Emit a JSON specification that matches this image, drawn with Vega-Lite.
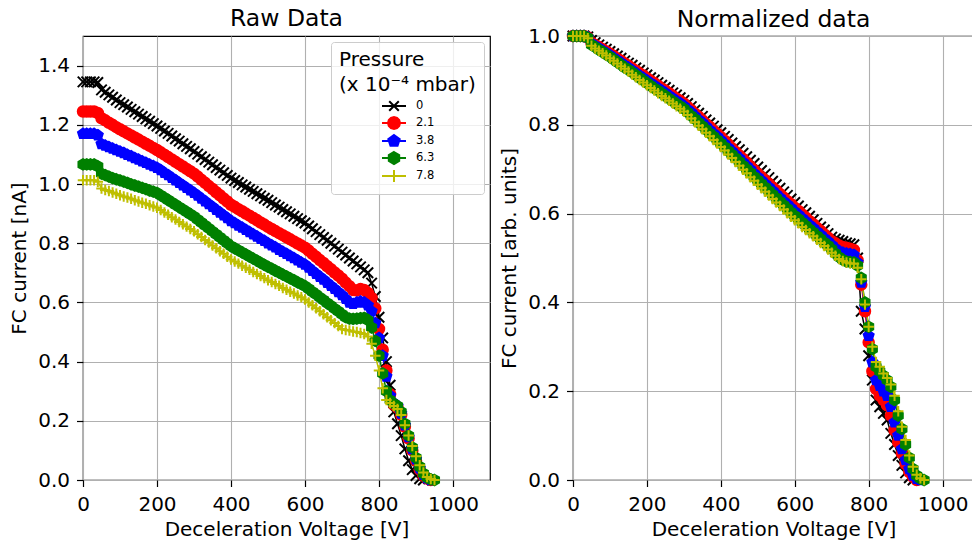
{
"$schema":"https://vega.github.io/schema/vega-lite/v6.json",
"background":"white",
"padding":{"left":9,"top":5,"right":0,"bottom":0},
"spacing":8,
"config":{
"font":"DejaVu Sans",
"view":{"stroke":"#000000","strokeWidth":1.2,"fill":"white"},
"axis":{"labelFont":"DejaVu Sans","titleFont":"DejaVu Sans","labelFontSize":20,"titleFontSize":20,"titleFontWeight":"normal","labelColor":"#000","titleColor":"#000","tickColor":"#000","tickSize":6.5,"tickWidth":1.2,"domain":false,"gridColor":"#b0b0b0","gridWidth":1.1,"gridOpacity":1,"labelFlush":false,"labelOverlap":false},
"axisY":{"titlePadding":8,"labelPadding":7},
"axisX":{"titlePadding":5,"labelPadding":8},
"title":{"font":"DejaVu Sans","fontSize":23.5,"fontWeight":"normal","color":"#000","offset":6,"frame":"group"},
"legend":{"titleFont":"DejaVu Sans","labelFont":"DejaVu Sans","titleFontSize":20,"titleFontWeight":"normal","titleColor":"#000","titleLineHeight":25,"titlePadding":4,"labelFontSize":11.5,"labelColor":"#000","fillColor":"rgba(255,255,255,0.8)","strokeColor":"#cccccc","cornerRadius":3,"padding":8,"rowPadding":-2,"symbolSize":144,"symbolStrokeWidth":2,"symbolOffset":48,"labelOffset":15}
},
"datasets":{
"raw":[
{"p":"0","v":0,"y":1.345},{"p":"0","v":10,"y":1.345},{"p":"0","v":20,"y":1.345},{"p":"0","v":30,"y":1.345},{"p":"0","v":40,"y":1.343},{"p":"0","v":50,"y":1.318},{"p":"0","v":60,"y":1.31},{"p":"0","v":70,"y":1.301},{"p":"0","v":80,"y":1.293},{"p":"0","v":90,"y":1.284},{"p":"0","v":100,"y":1.275},{"p":"0","v":110,"y":1.268},{"p":"0","v":120,"y":1.26},{"p":"0","v":130,"y":1.252},{"p":"0","v":140,"y":1.244},{"p":"0","v":150,"y":1.236},{"p":"0","v":160,"y":1.228},{"p":"0","v":170,"y":1.22},{"p":"0","v":180,"y":1.212},{"p":"0","v":190,"y":1.204},{"p":"0","v":200,"y":1.196},{"p":"0","v":210,"y":1.188},{"p":"0","v":220,"y":1.179},{"p":"0","v":230,"y":1.171},{"p":"0","v":240,"y":1.162},{"p":"0","v":250,"y":1.153},{"p":"0","v":260,"y":1.145},{"p":"0","v":270,"y":1.136},{"p":"0","v":280,"y":1.127},{"p":"0","v":290,"y":1.119},{"p":"0","v":300,"y":1.11},{"p":"0","v":310,"y":1.101},{"p":"0","v":320,"y":1.092},{"p":"0","v":330,"y":1.083},{"p":"0","v":340,"y":1.074},{"p":"0","v":350,"y":1.065},{"p":"0","v":360,"y":1.056},{"p":"0","v":370,"y":1.047},{"p":"0","v":380,"y":1.038},{"p":"0","v":390,"y":1.029},{"p":"0","v":400,"y":1.02},{"p":"0","v":410,"y":1.012},{"p":"0","v":420,"y":1.005},{"p":"0","v":430,"y":0.997},{"p":"0","v":440,"y":0.99},{"p":"0","v":450,"y":0.982},{"p":"0","v":460,"y":0.975},{"p":"0","v":470,"y":0.967},{"p":"0","v":480,"y":0.96},{"p":"0","v":490,"y":0.952},{"p":"0","v":500,"y":0.945},{"p":"0","v":510,"y":0.937},{"p":"0","v":520,"y":0.929},{"p":"0","v":530,"y":0.922},{"p":"0","v":540,"y":0.914},{"p":"0","v":550,"y":0.906},{"p":"0","v":560,"y":0.899},{"p":"0","v":570,"y":0.891},{"p":"0","v":580,"y":0.883},{"p":"0","v":590,"y":0.876},{"p":"0","v":600,"y":0.868},{"p":"0","v":610,"y":0.858},{"p":"0","v":620,"y":0.849},{"p":"0","v":630,"y":0.839},{"p":"0","v":640,"y":0.829},{"p":"0","v":650,"y":0.819},{"p":"0","v":660,"y":0.81},{"p":"0","v":670,"y":0.8},{"p":"0","v":680,"y":0.79},{"p":"0","v":690,"y":0.78},{"p":"0","v":700,"y":0.77},{"p":"0","v":710,"y":0.76},{"p":"0","v":720,"y":0.75},{"p":"0","v":730,"y":0.74},{"p":"0","v":740,"y":0.73},{"p":"0","v":750,"y":0.72},{"p":"0","v":760,"y":0.71},{"p":"0","v":770,"y":0.7},{"p":"0","v":780,"y":0.665},{"p":"0","v":790,"y":0.62},{"p":"0","v":800,"y":0.55},{"p":"0","v":810,"y":0.48},{"p":"0","v":820,"y":0.4},{"p":"0","v":830,"y":0.32},{"p":"0","v":840,"y":0.23},{"p":"0","v":850,"y":0.19},{"p":"0","v":860,"y":0.15},{"p":"0","v":870,"y":0.105},{"p":"0","v":880,"y":0.065},{"p":"0","v":890,"y":0.035},{"p":"0","v":900,"y":0.015},{"p":"0","v":910,"y":0.004},{"p":"0","v":920,"y":0},
{"p":"2.1","v":0,"y":1.245},{"p":"2.1","v":10,"y":1.245},{"p":"2.1","v":20,"y":1.245},{"p":"2.1","v":30,"y":1.245},{"p":"2.1","v":40,"y":1.24},{"p":"2.1","v":50,"y":1.222},{"p":"2.1","v":60,"y":1.215},{"p":"2.1","v":70,"y":1.207},{"p":"2.1","v":80,"y":1.2},{"p":"2.1","v":90,"y":1.192},{"p":"2.1","v":100,"y":1.185},{"p":"2.1","v":110,"y":1.178},{"p":"2.1","v":120,"y":1.171},{"p":"2.1","v":130,"y":1.164},{"p":"2.1","v":140,"y":1.157},{"p":"2.1","v":150,"y":1.15},{"p":"2.1","v":160,"y":1.143},{"p":"2.1","v":170,"y":1.136},{"p":"2.1","v":180,"y":1.129},{"p":"2.1","v":190,"y":1.122},{"p":"2.1","v":200,"y":1.115},{"p":"2.1","v":210,"y":1.107},{"p":"2.1","v":220,"y":1.099},{"p":"2.1","v":230,"y":1.091},{"p":"2.1","v":240,"y":1.083},{"p":"2.1","v":250,"y":1.075},{"p":"2.1","v":260,"y":1.067},{"p":"2.1","v":270,"y":1.059},{"p":"2.1","v":280,"y":1.051},{"p":"2.1","v":290,"y":1.043},{"p":"2.1","v":300,"y":1.035},{"p":"2.1","v":310,"y":1.025},{"p":"2.1","v":320,"y":1.014},{"p":"2.1","v":330,"y":1.004},{"p":"2.1","v":340,"y":0.993},{"p":"2.1","v":350,"y":0.983},{"p":"2.1","v":360,"y":0.972},{"p":"2.1","v":370,"y":0.962},{"p":"2.1","v":380,"y":0.951},{"p":"2.1","v":390,"y":0.941},{"p":"2.1","v":400,"y":0.93},{"p":"2.1","v":410,"y":0.923},{"p":"2.1","v":420,"y":0.915},{"p":"2.1","v":430,"y":0.908},{"p":"2.1","v":440,"y":0.9},{"p":"2.1","v":450,"y":0.893},{"p":"2.1","v":460,"y":0.885},{"p":"2.1","v":470,"y":0.878},{"p":"2.1","v":480,"y":0.87},{"p":"2.1","v":490,"y":0.863},{"p":"2.1","v":500,"y":0.855},{"p":"2.1","v":510,"y":0.848},{"p":"2.1","v":520,"y":0.841},{"p":"2.1","v":530,"y":0.834},{"p":"2.1","v":540,"y":0.827},{"p":"2.1","v":550,"y":0.82},{"p":"2.1","v":560,"y":0.813},{"p":"2.1","v":570,"y":0.806},{"p":"2.1","v":580,"y":0.799},{"p":"2.1","v":590,"y":0.792},{"p":"2.1","v":600,"y":0.785},{"p":"2.1","v":610,"y":0.775},{"p":"2.1","v":620,"y":0.764},{"p":"2.1","v":630,"y":0.754},{"p":"2.1","v":640,"y":0.743},{"p":"2.1","v":650,"y":0.733},{"p":"2.1","v":660,"y":0.722},{"p":"2.1","v":670,"y":0.712},{"p":"2.1","v":680,"y":0.701},{"p":"2.1","v":690,"y":0.691},{"p":"2.1","v":700,"y":0.68},{"p":"2.1","v":710,"y":0.667},{"p":"2.1","v":720,"y":0.655},{"p":"2.1","v":730,"y":0.642},{"p":"2.1","v":740,"y":0.64},{"p":"2.1","v":750,"y":0.645},{"p":"2.1","v":760,"y":0.642},{"p":"2.1","v":770,"y":0.632},{"p":"2.1","v":780,"y":0.615},{"p":"2.1","v":790,"y":0.58},{"p":"2.1","v":800,"y":0.51},{"p":"2.1","v":810,"y":0.44},{"p":"2.1","v":820,"y":0.37},{"p":"2.1","v":830,"y":0.29},{"p":"2.1","v":840,"y":0.255},{"p":"2.1","v":850,"y":0.245},{"p":"2.1","v":860,"y":0.22},{"p":"2.1","v":870,"y":0.18},{"p":"2.1","v":880,"y":0.14},{"p":"2.1","v":890,"y":0.1},{"p":"2.1","v":900,"y":0.065},{"p":"2.1","v":910,"y":0.035},{"p":"2.1","v":920,"y":0.015},{"p":"2.1","v":930,"y":0.005},{"p":"2.1","v":940,"y":0},
{"p":"3.8","v":0,"y":1.17},{"p":"3.8","v":10,"y":1.17},{"p":"3.8","v":20,"y":1.17},{"p":"3.8","v":30,"y":1.17},{"p":"3.8","v":40,"y":1.165},{"p":"3.8","v":50,"y":1.135},{"p":"3.8","v":60,"y":1.13},{"p":"3.8","v":70,"y":1.125},{"p":"3.8","v":80,"y":1.12},{"p":"3.8","v":90,"y":1.115},{"p":"3.8","v":100,"y":1.11},{"p":"3.8","v":110,"y":1.105},{"p":"3.8","v":120,"y":1.099},{"p":"3.8","v":130,"y":1.094},{"p":"3.8","v":140,"y":1.088},{"p":"3.8","v":150,"y":1.083},{"p":"3.8","v":160,"y":1.077},{"p":"3.8","v":170,"y":1.072},{"p":"3.8","v":180,"y":1.066},{"p":"3.8","v":190,"y":1.061},{"p":"3.8","v":200,"y":1.055},{"p":"3.8","v":210,"y":1.047},{"p":"3.8","v":220,"y":1.038},{"p":"3.8","v":230,"y":1.03},{"p":"3.8","v":240,"y":1.021},{"p":"3.8","v":250,"y":1.013},{"p":"3.8","v":260,"y":1.004},{"p":"3.8","v":270,"y":0.996},{"p":"3.8","v":280,"y":0.987},{"p":"3.8","v":290,"y":0.979},{"p":"3.8","v":300,"y":0.97},{"p":"3.8","v":310,"y":0.961},{"p":"3.8","v":320,"y":0.951},{"p":"3.8","v":330,"y":0.942},{"p":"3.8","v":340,"y":0.932},{"p":"3.8","v":350,"y":0.923},{"p":"3.8","v":360,"y":0.913},{"p":"3.8","v":370,"y":0.904},{"p":"3.8","v":380,"y":0.894},{"p":"3.8","v":390,"y":0.885},{"p":"3.8","v":400,"y":0.875},{"p":"3.8","v":410,"y":0.868},{"p":"3.8","v":420,"y":0.86},{"p":"3.8","v":430,"y":0.853},{"p":"3.8","v":440,"y":0.845},{"p":"3.8","v":450,"y":0.838},{"p":"3.8","v":460,"y":0.83},{"p":"3.8","v":470,"y":0.823},{"p":"3.8","v":480,"y":0.815},{"p":"3.8","v":490,"y":0.808},{"p":"3.8","v":500,"y":0.8},{"p":"3.8","v":510,"y":0.793},{"p":"3.8","v":520,"y":0.786},{"p":"3.8","v":530,"y":0.778},{"p":"3.8","v":540,"y":0.771},{"p":"3.8","v":550,"y":0.764},{"p":"3.8","v":560,"y":0.757},{"p":"3.8","v":570,"y":0.75},{"p":"3.8","v":580,"y":0.742},{"p":"3.8","v":590,"y":0.735},{"p":"3.8","v":600,"y":0.728},{"p":"3.8","v":610,"y":0.718},{"p":"3.8","v":620,"y":0.707},{"p":"3.8","v":630,"y":0.697},{"p":"3.8","v":640,"y":0.687},{"p":"3.8","v":650,"y":0.677},{"p":"3.8","v":660,"y":0.666},{"p":"3.8","v":670,"y":0.656},{"p":"3.8","v":680,"y":0.646},{"p":"3.8","v":690,"y":0.635},{"p":"3.8","v":700,"y":0.625},{"p":"3.8","v":710,"y":0.612},{"p":"3.8","v":720,"y":0.6},{"p":"3.8","v":730,"y":0.595},{"p":"3.8","v":740,"y":0.6},{"p":"3.8","v":750,"y":0.603},{"p":"3.8","v":760,"y":0.6},{"p":"3.8","v":770,"y":0.59},{"p":"3.8","v":780,"y":0.57},{"p":"3.8","v":790,"y":0.53},{"p":"3.8","v":800,"y":0.48},{"p":"3.8","v":810,"y":0.42},{"p":"3.8","v":820,"y":0.35},{"p":"3.8","v":830,"y":0.285},{"p":"3.8","v":840,"y":0.26},{"p":"3.8","v":850,"y":0.25},{"p":"3.8","v":860,"y":0.225},{"p":"3.8","v":870,"y":0.185},{"p":"3.8","v":880,"y":0.145},{"p":"3.8","v":890,"y":0.105},{"p":"3.8","v":900,"y":0.07},{"p":"3.8","v":910,"y":0.04},{"p":"3.8","v":920,"y":0.018},{"p":"3.8","v":930,"y":0.006},{"p":"3.8","v":940,"y":0},
{"p":"6.3","v":0,"y":1.066},{"p":"6.3","v":10,"y":1.066},{"p":"6.3","v":20,"y":1.066},{"p":"6.3","v":30,"y":1.066},{"p":"6.3","v":40,"y":1.06},{"p":"6.3","v":50,"y":1.035},{"p":"6.3","v":60,"y":1.03},{"p":"6.3","v":70,"y":1.025},{"p":"6.3","v":80,"y":1.02},{"p":"6.3","v":90,"y":1.016},{"p":"6.3","v":100,"y":1.012},{"p":"6.3","v":110,"y":1.008},{"p":"6.3","v":120,"y":1.004},{"p":"6.3","v":130,"y":0.999},{"p":"6.3","v":140,"y":0.995},{"p":"6.3","v":150,"y":0.991},{"p":"6.3","v":160,"y":0.987},{"p":"6.3","v":170,"y":0.983},{"p":"6.3","v":180,"y":0.978},{"p":"6.3","v":190,"y":0.974},{"p":"6.3","v":200,"y":0.97},{"p":"6.3","v":210,"y":0.962},{"p":"6.3","v":220,"y":0.954},{"p":"6.3","v":230,"y":0.946},{"p":"6.3","v":240,"y":0.938},{"p":"6.3","v":250,"y":0.93},{"p":"6.3","v":260,"y":0.922},{"p":"6.3","v":270,"y":0.914},{"p":"6.3","v":280,"y":0.906},{"p":"6.3","v":290,"y":0.898},{"p":"6.3","v":300,"y":0.89},{"p":"6.3","v":310,"y":0.88},{"p":"6.3","v":320,"y":0.87},{"p":"6.3","v":330,"y":0.86},{"p":"6.3","v":340,"y":0.85},{"p":"6.3","v":350,"y":0.84},{"p":"6.3","v":360,"y":0.83},{"p":"6.3","v":370,"y":0.82},{"p":"6.3","v":380,"y":0.81},{"p":"6.3","v":390,"y":0.8},{"p":"6.3","v":400,"y":0.79},{"p":"6.3","v":410,"y":0.783},{"p":"6.3","v":420,"y":0.776},{"p":"6.3","v":430,"y":0.769},{"p":"6.3","v":440,"y":0.762},{"p":"6.3","v":450,"y":0.755},{"p":"6.3","v":460,"y":0.748},{"p":"6.3","v":470,"y":0.741},{"p":"6.3","v":480,"y":0.734},{"p":"6.3","v":490,"y":0.727},{"p":"6.3","v":500,"y":0.72},{"p":"6.3","v":510,"y":0.714},{"p":"6.3","v":520,"y":0.707},{"p":"6.3","v":530,"y":0.701},{"p":"6.3","v":540,"y":0.694},{"p":"6.3","v":550,"y":0.688},{"p":"6.3","v":560,"y":0.681},{"p":"6.3","v":570,"y":0.675},{"p":"6.3","v":580,"y":0.668},{"p":"6.3","v":590,"y":0.662},{"p":"6.3","v":600,"y":0.655},{"p":"6.3","v":610,"y":0.646},{"p":"6.3","v":620,"y":0.636},{"p":"6.3","v":630,"y":0.627},{"p":"6.3","v":640,"y":0.617},{"p":"6.3","v":650,"y":0.608},{"p":"6.3","v":660,"y":0.598},{"p":"6.3","v":670,"y":0.589},{"p":"6.3","v":680,"y":0.579},{"p":"6.3","v":690,"y":0.57},{"p":"6.3","v":700,"y":0.56},{"p":"6.3","v":710,"y":0.55},{"p":"6.3","v":720,"y":0.545},{"p":"6.3","v":730,"y":0.544},{"p":"6.3","v":740,"y":0.545},{"p":"6.3","v":750,"y":0.547},{"p":"6.3","v":760,"y":0.548},{"p":"6.3","v":770,"y":0.54},{"p":"6.3","v":780,"y":0.515},{"p":"6.3","v":790,"y":0.47},{"p":"6.3","v":800,"y":0.42},{"p":"6.3","v":810,"y":0.36},{"p":"6.3","v":820,"y":0.3},{"p":"6.3","v":830,"y":0.27},{"p":"6.3","v":840,"y":0.258},{"p":"6.3","v":850,"y":0.25},{"p":"6.3","v":860,"y":0.23},{"p":"6.3","v":870,"y":0.19},{"p":"6.3","v":880,"y":0.15},{"p":"6.3","v":890,"y":0.11},{"p":"6.3","v":900,"y":0.075},{"p":"6.3","v":910,"y":0.045},{"p":"6.3","v":920,"y":0.022},{"p":"6.3","v":930,"y":0.008},{"p":"6.3","v":940,"y":0.002},{"p":"6.3","v":950,"y":0},
{"p":"7.8","v":0,"y":1.013},{"p":"7.8","v":10,"y":1.013},{"p":"7.8","v":20,"y":1.013},{"p":"7.8","v":30,"y":1.013},{"p":"7.8","v":40,"y":1.008},{"p":"7.8","v":50,"y":0.985},{"p":"7.8","v":60,"y":0.98},{"p":"7.8","v":70,"y":0.976},{"p":"7.8","v":80,"y":0.971},{"p":"7.8","v":90,"y":0.967},{"p":"7.8","v":100,"y":0.962},{"p":"7.8","v":110,"y":0.958},{"p":"7.8","v":120,"y":0.954},{"p":"7.8","v":130,"y":0.95},{"p":"7.8","v":140,"y":0.945},{"p":"7.8","v":150,"y":0.941},{"p":"7.8","v":160,"y":0.937},{"p":"7.8","v":170,"y":0.933},{"p":"7.8","v":180,"y":0.928},{"p":"7.8","v":190,"y":0.924},{"p":"7.8","v":200,"y":0.92},{"p":"7.8","v":210,"y":0.912},{"p":"7.8","v":220,"y":0.904},{"p":"7.8","v":230,"y":0.896},{"p":"7.8","v":240,"y":0.888},{"p":"7.8","v":250,"y":0.88},{"p":"7.8","v":260,"y":0.872},{"p":"7.8","v":270,"y":0.864},{"p":"7.8","v":280,"y":0.856},{"p":"7.8","v":290,"y":0.848},{"p":"7.8","v":300,"y":0.84},{"p":"7.8","v":310,"y":0.83},{"p":"7.8","v":320,"y":0.821},{"p":"7.8","v":330,"y":0.811},{"p":"7.8","v":340,"y":0.802},{"p":"7.8","v":350,"y":0.792},{"p":"7.8","v":360,"y":0.783},{"p":"7.8","v":370,"y":0.773},{"p":"7.8","v":380,"y":0.764},{"p":"7.8","v":390,"y":0.754},{"p":"7.8","v":400,"y":0.745},{"p":"7.8","v":410,"y":0.738},{"p":"7.8","v":420,"y":0.731},{"p":"7.8","v":430,"y":0.724},{"p":"7.8","v":440,"y":0.717},{"p":"7.8","v":450,"y":0.71},{"p":"7.8","v":460,"y":0.703},{"p":"7.8","v":470,"y":0.696},{"p":"7.8","v":480,"y":0.689},{"p":"7.8","v":490,"y":0.682},{"p":"7.8","v":500,"y":0.675},{"p":"7.8","v":510,"y":0.669},{"p":"7.8","v":520,"y":0.662},{"p":"7.8","v":530,"y":0.656},{"p":"7.8","v":540,"y":0.649},{"p":"7.8","v":550,"y":0.643},{"p":"7.8","v":560,"y":0.636},{"p":"7.8","v":570,"y":0.63},{"p":"7.8","v":580,"y":0.623},{"p":"7.8","v":590,"y":0.617},{"p":"7.8","v":600,"y":0.61},{"p":"7.8","v":610,"y":0.6},{"p":"7.8","v":620,"y":0.59},{"p":"7.8","v":630,"y":0.58},{"p":"7.8","v":640,"y":0.57},{"p":"7.8","v":650,"y":0.56},{"p":"7.8","v":660,"y":0.55},{"p":"7.8","v":670,"y":0.54},{"p":"7.8","v":680,"y":0.53},{"p":"7.8","v":690,"y":0.52},{"p":"7.8","v":700,"y":0.51},{"p":"7.8","v":710,"y":0.507},{"p":"7.8","v":720,"y":0.505},{"p":"7.8","v":730,"y":0.502},{"p":"7.8","v":740,"y":0.5},{"p":"7.8","v":750,"y":0.497},{"p":"7.8","v":760,"y":0.493},{"p":"7.8","v":770,"y":0.485},{"p":"7.8","v":780,"y":0.46},{"p":"7.8","v":790,"y":0.42},{"p":"7.8","v":800,"y":0.37},{"p":"7.8","v":810,"y":0.31},{"p":"7.8","v":820,"y":0.27},{"p":"7.8","v":830,"y":0.26},{"p":"7.8","v":840,"y":0.25},{"p":"7.8","v":850,"y":0.24},{"p":"7.8","v":860,"y":0.22},{"p":"7.8","v":870,"y":0.185},{"p":"7.8","v":880,"y":0.15},{"p":"7.8","v":890,"y":0.115},{"p":"7.8","v":900,"y":0.08},{"p":"7.8","v":910,"y":0.05},{"p":"7.8","v":920,"y":0.025},{"p":"7.8","v":930,"y":0.01},{"p":"7.8","v":940,"y":0.003},{"p":"7.8","v":950,"y":0}
],
"norm":[
{"p":"0","v":0,"y":1},{"p":"0","v":10,"y":1},{"p":"0","v":20,"y":1},{"p":"0","v":30,"y":1},{"p":"0","v":40,"y":0.998},{"p":"0","v":50,"y":0.99},{"p":"0","v":60,"y":0.985},{"p":"0","v":70,"y":0.98},{"p":"0","v":80,"y":0.975},{"p":"0","v":90,"y":0.97},{"p":"0","v":100,"y":0.965},{"p":"0","v":110,"y":0.96},{"p":"0","v":120,"y":0.955},{"p":"0","v":130,"y":0.95},{"p":"0","v":140,"y":0.944},{"p":"0","v":150,"y":0.939},{"p":"0","v":160,"y":0.934},{"p":"0","v":170,"y":0.928},{"p":"0","v":180,"y":0.923},{"p":"0","v":190,"y":0.917},{"p":"0","v":200,"y":0.912},{"p":"0","v":210,"y":0.906},{"p":"0","v":220,"y":0.901},{"p":"0","v":230,"y":0.895},{"p":"0","v":240,"y":0.889},{"p":"0","v":250,"y":0.884},{"p":"0","v":260,"y":0.878},{"p":"0","v":270,"y":0.872},{"p":"0","v":280,"y":0.867},{"p":"0","v":290,"y":0.861},{"p":"0","v":300,"y":0.855},{"p":"0","v":310,"y":0.848},{"p":"0","v":320,"y":0.841},{"p":"0","v":330,"y":0.833},{"p":"0","v":340,"y":0.826},{"p":"0","v":350,"y":0.819},{"p":"0","v":360,"y":0.811},{"p":"0","v":370,"y":0.804},{"p":"0","v":380,"y":0.797},{"p":"0","v":390,"y":0.789},{"p":"0","v":400,"y":0.782},{"p":"0","v":410,"y":0.774},{"p":"0","v":420,"y":0.767},{"p":"0","v":430,"y":0.759},{"p":"0","v":440,"y":0.751},{"p":"0","v":450,"y":0.744},{"p":"0","v":460,"y":0.736},{"p":"0","v":470,"y":0.728},{"p":"0","v":480,"y":0.72},{"p":"0","v":490,"y":0.713},{"p":"0","v":500,"y":0.705},{"p":"0","v":510,"y":0.697},{"p":"0","v":520,"y":0.689},{"p":"0","v":530,"y":0.681},{"p":"0","v":540,"y":0.673},{"p":"0","v":550,"y":0.665},{"p":"0","v":560,"y":0.657},{"p":"0","v":570,"y":0.649},{"p":"0","v":580,"y":0.641},{"p":"0","v":590,"y":0.633},{"p":"0","v":600,"y":0.625},{"p":"0","v":610,"y":0.617},{"p":"0","v":620,"y":0.609},{"p":"0","v":630,"y":0.602},{"p":"0","v":640,"y":0.594},{"p":"0","v":650,"y":0.586},{"p":"0","v":660,"y":0.578},{"p":"0","v":670,"y":0.57},{"p":"0","v":680,"y":0.563},{"p":"0","v":690,"y":0.555},{"p":"0","v":700,"y":0.547},{"p":"0","v":710,"y":0.543},{"p":"0","v":720,"y":0.54},{"p":"0","v":730,"y":0.537},{"p":"0","v":740,"y":0.534},{"p":"0","v":750,"y":0.532},{"p":"0","v":760,"y":0.53},{"p":"0","v":770,"y":0.5},{"p":"0","v":780,"y":0.38},{"p":"0","v":790,"y":0.34},{"p":"0","v":800,"y":0.28},{"p":"0","v":810,"y":0.225},{"p":"0","v":820,"y":0.18},{"p":"0","v":830,"y":0.165},{"p":"0","v":840,"y":0.15},{"p":"0","v":850,"y":0.135},{"p":"0","v":860,"y":0.105},{"p":"0","v":870,"y":0.08},{"p":"0","v":880,"y":0.055},{"p":"0","v":890,"y":0.033},{"p":"0","v":900,"y":0.016},{"p":"0","v":910,"y":0.005},{"p":"0","v":920,"y":0},
{"p":"2.1","v":0,"y":1},{"p":"2.1","v":10,"y":1},{"p":"2.1","v":20,"y":1},{"p":"2.1","v":30,"y":1},{"p":"2.1","v":40,"y":0.997},{"p":"2.1","v":50,"y":0.985},{"p":"2.1","v":60,"y":0.98},{"p":"2.1","v":70,"y":0.975},{"p":"2.1","v":80,"y":0.97},{"p":"2.1","v":90,"y":0.965},{"p":"2.1","v":100,"y":0.96},{"p":"2.1","v":110,"y":0.955},{"p":"2.1","v":120,"y":0.949},{"p":"2.1","v":130,"y":0.944},{"p":"2.1","v":140,"y":0.938},{"p":"2.1","v":150,"y":0.933},{"p":"2.1","v":160,"y":0.927},{"p":"2.1","v":170,"y":0.922},{"p":"2.1","v":180,"y":0.916},{"p":"2.1","v":190,"y":0.911},{"p":"2.1","v":200,"y":0.905},{"p":"2.1","v":210,"y":0.899},{"p":"2.1","v":220,"y":0.894},{"p":"2.1","v":230,"y":0.888},{"p":"2.1","v":240,"y":0.882},{"p":"2.1","v":250,"y":0.877},{"p":"2.1","v":260,"y":0.871},{"p":"2.1","v":270,"y":0.865},{"p":"2.1","v":280,"y":0.859},{"p":"2.1","v":290,"y":0.854},{"p":"2.1","v":300,"y":0.848},{"p":"2.1","v":310,"y":0.84},{"p":"2.1","v":320,"y":0.833},{"p":"2.1","v":330,"y":0.825},{"p":"2.1","v":340,"y":0.818},{"p":"2.1","v":350,"y":0.81},{"p":"2.1","v":360,"y":0.802},{"p":"2.1","v":370,"y":0.795},{"p":"2.1","v":380,"y":0.787},{"p":"2.1","v":390,"y":0.78},{"p":"2.1","v":400,"y":0.772},{"p":"2.1","v":410,"y":0.764},{"p":"2.1","v":420,"y":0.756},{"p":"2.1","v":430,"y":0.747},{"p":"2.1","v":440,"y":0.739},{"p":"2.1","v":450,"y":0.731},{"p":"2.1","v":460,"y":0.723},{"p":"2.1","v":470,"y":0.715},{"p":"2.1","v":480,"y":0.706},{"p":"2.1","v":490,"y":0.698},{"p":"2.1","v":500,"y":0.69},{"p":"2.1","v":510,"y":0.682},{"p":"2.1","v":520,"y":0.675},{"p":"2.1","v":530,"y":0.667},{"p":"2.1","v":540,"y":0.659},{"p":"2.1","v":550,"y":0.652},{"p":"2.1","v":560,"y":0.644},{"p":"2.1","v":570,"y":0.636},{"p":"2.1","v":580,"y":0.628},{"p":"2.1","v":590,"y":0.621},{"p":"2.1","v":600,"y":0.613},{"p":"2.1","v":610,"y":0.606},{"p":"2.1","v":620,"y":0.598},{"p":"2.1","v":630,"y":0.591},{"p":"2.1","v":640,"y":0.583},{"p":"2.1","v":650,"y":0.576},{"p":"2.1","v":660,"y":0.568},{"p":"2.1","v":670,"y":0.561},{"p":"2.1","v":680,"y":0.553},{"p":"2.1","v":690,"y":0.546},{"p":"2.1","v":700,"y":0.538},{"p":"2.1","v":710,"y":0.533},{"p":"2.1","v":720,"y":0.528},{"p":"2.1","v":730,"y":0.525},{"p":"2.1","v":740,"y":0.523},{"p":"2.1","v":750,"y":0.521},{"p":"2.1","v":760,"y":0.518},{"p":"2.1","v":770,"y":0.495},{"p":"2.1","v":780,"y":0.44},{"p":"2.1","v":790,"y":0.38},{"p":"2.1","v":800,"y":0.31},{"p":"2.1","v":810,"y":0.245},{"p":"2.1","v":820,"y":0.205},{"p":"2.1","v":830,"y":0.19},{"p":"2.1","v":840,"y":0.18},{"p":"2.1","v":850,"y":0.168},{"p":"2.1","v":860,"y":0.145},{"p":"2.1","v":870,"y":0.112},{"p":"2.1","v":880,"y":0.085},{"p":"2.1","v":890,"y":0.06},{"p":"2.1","v":900,"y":0.036},{"p":"2.1","v":910,"y":0.018},{"p":"2.1","v":920,"y":0.007},{"p":"2.1","v":930,"y":0},
{"p":"3.8","v":0,"y":1},{"p":"3.8","v":10,"y":1},{"p":"3.8","v":20,"y":1},{"p":"3.8","v":30,"y":1},{"p":"3.8","v":40,"y":0.997},{"p":"3.8","v":50,"y":0.983},{"p":"3.8","v":60,"y":0.978},{"p":"3.8","v":70,"y":0.973},{"p":"3.8","v":80,"y":0.967},{"p":"3.8","v":90,"y":0.962},{"p":"3.8","v":100,"y":0.957},{"p":"3.8","v":110,"y":0.951},{"p":"3.8","v":120,"y":0.946},{"p":"3.8","v":130,"y":0.94},{"p":"3.8","v":140,"y":0.934},{"p":"3.8","v":150,"y":0.929},{"p":"3.8","v":160,"y":0.923},{"p":"3.8","v":170,"y":0.917},{"p":"3.8","v":180,"y":0.911},{"p":"3.8","v":190,"y":0.906},{"p":"3.8","v":200,"y":0.9},{"p":"3.8","v":210,"y":0.894},{"p":"3.8","v":220,"y":0.889},{"p":"3.8","v":230,"y":0.883},{"p":"3.8","v":240,"y":0.877},{"p":"3.8","v":250,"y":0.872},{"p":"3.8","v":260,"y":0.866},{"p":"3.8","v":270,"y":0.86},{"p":"3.8","v":280,"y":0.854},{"p":"3.8","v":290,"y":0.849},{"p":"3.8","v":300,"y":0.843},{"p":"3.8","v":310,"y":0.835},{"p":"3.8","v":320,"y":0.828},{"p":"3.8","v":330,"y":0.82},{"p":"3.8","v":340,"y":0.812},{"p":"3.8","v":350,"y":0.805},{"p":"3.8","v":360,"y":0.797},{"p":"3.8","v":370,"y":0.789},{"p":"3.8","v":380,"y":0.781},{"p":"3.8","v":390,"y":0.774},{"p":"3.8","v":400,"y":0.766},{"p":"3.8","v":410,"y":0.758},{"p":"3.8","v":420,"y":0.749},{"p":"3.8","v":430,"y":0.741},{"p":"3.8","v":440,"y":0.733},{"p":"3.8","v":450,"y":0.725},{"p":"3.8","v":460,"y":0.716},{"p":"3.8","v":470,"y":0.708},{"p":"3.8","v":480,"y":0.7},{"p":"3.8","v":490,"y":0.691},{"p":"3.8","v":500,"y":0.683},{"p":"3.8","v":510,"y":0.675},{"p":"3.8","v":520,"y":0.667},{"p":"3.8","v":530,"y":0.66},{"p":"3.8","v":540,"y":0.652},{"p":"3.8","v":550,"y":0.644},{"p":"3.8","v":560,"y":0.636},{"p":"3.8","v":570,"y":0.628},{"p":"3.8","v":580,"y":0.621},{"p":"3.8","v":590,"y":0.613},{"p":"3.8","v":600,"y":0.605},{"p":"3.8","v":610,"y":0.598},{"p":"3.8","v":620,"y":0.59},{"p":"3.8","v":630,"y":0.583},{"p":"3.8","v":640,"y":0.575},{"p":"3.8","v":650,"y":0.568},{"p":"3.8","v":660,"y":0.56},{"p":"3.8","v":670,"y":0.553},{"p":"3.8","v":680,"y":0.545},{"p":"3.8","v":690,"y":0.538},{"p":"3.8","v":700,"y":0.53},{"p":"3.8","v":710,"y":0.522},{"p":"3.8","v":720,"y":0.515},{"p":"3.8","v":730,"y":0.512},{"p":"3.8","v":740,"y":0.51},{"p":"3.8","v":750,"y":0.509},{"p":"3.8","v":760,"y":0.507},{"p":"3.8","v":770,"y":0.49},{"p":"3.8","v":780,"y":0.445},{"p":"3.8","v":790,"y":0.39},{"p":"3.8","v":800,"y":0.325},{"p":"3.8","v":810,"y":0.265},{"p":"3.8","v":820,"y":0.225},{"p":"3.8","v":830,"y":0.212},{"p":"3.8","v":840,"y":0.2},{"p":"3.8","v":850,"y":0.19},{"p":"3.8","v":860,"y":0.165},{"p":"3.8","v":870,"y":0.13},{"p":"3.8","v":880,"y":0.1},{"p":"3.8","v":890,"y":0.07},{"p":"3.8","v":900,"y":0.045},{"p":"3.8","v":910,"y":0.025},{"p":"3.8","v":920,"y":0.01},{"p":"3.8","v":930,"y":0.003},{"p":"3.8","v":940,"y":0},
{"p":"6.3","v":0,"y":1},{"p":"6.3","v":10,"y":1},{"p":"6.3","v":20,"y":1},{"p":"6.3","v":30,"y":1},{"p":"6.3","v":40,"y":0.996},{"p":"6.3","v":50,"y":0.98},{"p":"6.3","v":60,"y":0.975},{"p":"6.3","v":70,"y":0.969},{"p":"6.3","v":80,"y":0.964},{"p":"6.3","v":90,"y":0.958},{"p":"6.3","v":100,"y":0.953},{"p":"6.3","v":110,"y":0.947},{"p":"6.3","v":120,"y":0.941},{"p":"6.3","v":130,"y":0.935},{"p":"6.3","v":140,"y":0.929},{"p":"6.3","v":150,"y":0.924},{"p":"6.3","v":160,"y":0.918},{"p":"6.3","v":170,"y":0.912},{"p":"6.3","v":180,"y":0.906},{"p":"6.3","v":190,"y":0.9},{"p":"6.3","v":200,"y":0.894},{"p":"6.3","v":210,"y":0.888},{"p":"6.3","v":220,"y":0.882},{"p":"6.3","v":230,"y":0.877},{"p":"6.3","v":240,"y":0.871},{"p":"6.3","v":250,"y":0.865},{"p":"6.3","v":260,"y":0.859},{"p":"6.3","v":270,"y":0.853},{"p":"6.3","v":280,"y":0.847},{"p":"6.3","v":290,"y":0.842},{"p":"6.3","v":300,"y":0.836},{"p":"6.3","v":310,"y":0.828},{"p":"6.3","v":320,"y":0.82},{"p":"6.3","v":330,"y":0.813},{"p":"6.3","v":340,"y":0.805},{"p":"6.3","v":350,"y":0.797},{"p":"6.3","v":360,"y":0.789},{"p":"6.3","v":370,"y":0.781},{"p":"6.3","v":380,"y":0.774},{"p":"6.3","v":390,"y":0.766},{"p":"6.3","v":400,"y":0.758},{"p":"6.3","v":410,"y":0.75},{"p":"6.3","v":420,"y":0.741},{"p":"6.3","v":430,"y":0.733},{"p":"6.3","v":440,"y":0.725},{"p":"6.3","v":450,"y":0.717},{"p":"6.3","v":460,"y":0.708},{"p":"6.3","v":470,"y":0.7},{"p":"6.3","v":480,"y":0.692},{"p":"6.3","v":490,"y":0.683},{"p":"6.3","v":500,"y":0.675},{"p":"6.3","v":510,"y":0.667},{"p":"6.3","v":520,"y":0.659},{"p":"6.3","v":530,"y":0.651},{"p":"6.3","v":540,"y":0.643},{"p":"6.3","v":550,"y":0.635},{"p":"6.3","v":560,"y":0.627},{"p":"6.3","v":570,"y":0.619},{"p":"6.3","v":580,"y":0.611},{"p":"6.3","v":590,"y":0.603},{"p":"6.3","v":600,"y":0.595},{"p":"6.3","v":610,"y":0.588},{"p":"6.3","v":620,"y":0.58},{"p":"6.3","v":630,"y":0.573},{"p":"6.3","v":640,"y":0.565},{"p":"6.3","v":650,"y":0.558},{"p":"6.3","v":660,"y":0.55},{"p":"6.3","v":670,"y":0.543},{"p":"6.3","v":680,"y":0.535},{"p":"6.3","v":690,"y":0.528},{"p":"6.3","v":700,"y":0.52},{"p":"6.3","v":710,"y":0.51},{"p":"6.3","v":720,"y":0.502},{"p":"6.3","v":730,"y":0.496},{"p":"6.3","v":740,"y":0.492},{"p":"6.3","v":750,"y":0.491},{"p":"6.3","v":760,"y":0.49},{"p":"6.3","v":770,"y":0.483},{"p":"6.3","v":780,"y":0.455},{"p":"6.3","v":790,"y":0.4},{"p":"6.3","v":800,"y":0.345},{"p":"6.3","v":810,"y":0.295},{"p":"6.3","v":820,"y":0.255},{"p":"6.3","v":830,"y":0.245},{"p":"6.3","v":840,"y":0.235},{"p":"6.3","v":850,"y":0.225},{"p":"6.3","v":860,"y":0.21},{"p":"6.3","v":870,"y":0.18},{"p":"6.3","v":880,"y":0.145},{"p":"6.3","v":890,"y":0.115},{"p":"6.3","v":900,"y":0.08},{"p":"6.3","v":910,"y":0.05},{"p":"6.3","v":920,"y":0.025},{"p":"6.3","v":930,"y":0.01},{"p":"6.3","v":940,"y":0.003},{"p":"6.3","v":950,"y":0},
{"p":"7.8","v":0,"y":1},{"p":"7.8","v":10,"y":1},{"p":"7.8","v":20,"y":1},{"p":"7.8","v":30,"y":1},{"p":"7.8","v":40,"y":0.995},{"p":"7.8","v":50,"y":0.978},{"p":"7.8","v":60,"y":0.972},{"p":"7.8","v":70,"y":0.967},{"p":"7.8","v":80,"y":0.961},{"p":"7.8","v":90,"y":0.956},{"p":"7.8","v":100,"y":0.95},{"p":"7.8","v":110,"y":0.944},{"p":"7.8","v":120,"y":0.938},{"p":"7.8","v":130,"y":0.932},{"p":"7.8","v":140,"y":0.926},{"p":"7.8","v":150,"y":0.92},{"p":"7.8","v":160,"y":0.913},{"p":"7.8","v":170,"y":0.907},{"p":"7.8","v":180,"y":0.901},{"p":"7.8","v":190,"y":0.895},{"p":"7.8","v":200,"y":0.889},{"p":"7.8","v":210,"y":0.883},{"p":"7.8","v":220,"y":0.877},{"p":"7.8","v":230,"y":0.871},{"p":"7.8","v":240,"y":0.865},{"p":"7.8","v":250,"y":0.86},{"p":"7.8","v":260,"y":0.854},{"p":"7.8","v":270,"y":0.848},{"p":"7.8","v":280,"y":0.842},{"p":"7.8","v":290,"y":0.836},{"p":"7.8","v":300,"y":0.83},{"p":"7.8","v":310,"y":0.822},{"p":"7.8","v":320,"y":0.814},{"p":"7.8","v":330,"y":0.806},{"p":"7.8","v":340,"y":0.798},{"p":"7.8","v":350,"y":0.79},{"p":"7.8","v":360,"y":0.782},{"p":"7.8","v":370,"y":0.774},{"p":"7.8","v":380,"y":0.766},{"p":"7.8","v":390,"y":0.758},{"p":"7.8","v":400,"y":0.75},{"p":"7.8","v":410,"y":0.742},{"p":"7.8","v":420,"y":0.733},{"p":"7.8","v":430,"y":0.725},{"p":"7.8","v":440,"y":0.716},{"p":"7.8","v":450,"y":0.708},{"p":"7.8","v":460,"y":0.699},{"p":"7.8","v":470,"y":0.691},{"p":"7.8","v":480,"y":0.682},{"p":"7.8","v":490,"y":0.674},{"p":"7.8","v":500,"y":0.665},{"p":"7.8","v":510,"y":0.657},{"p":"7.8","v":520,"y":0.649},{"p":"7.8","v":530,"y":0.641},{"p":"7.8","v":540,"y":0.633},{"p":"7.8","v":550,"y":0.625},{"p":"7.8","v":560,"y":0.617},{"p":"7.8","v":570,"y":0.609},{"p":"7.8","v":580,"y":0.601},{"p":"7.8","v":590,"y":0.593},{"p":"7.8","v":600,"y":0.585},{"p":"7.8","v":610,"y":0.578},{"p":"7.8","v":620,"y":0.57},{"p":"7.8","v":630,"y":0.563},{"p":"7.8","v":640,"y":0.556},{"p":"7.8","v":650,"y":0.549},{"p":"7.8","v":660,"y":0.541},{"p":"7.8","v":670,"y":0.534},{"p":"7.8","v":680,"y":0.527},{"p":"7.8","v":690,"y":0.519},{"p":"7.8","v":700,"y":0.512},{"p":"7.8","v":710,"y":0.505},{"p":"7.8","v":720,"y":0.498},{"p":"7.8","v":730,"y":0.493},{"p":"7.8","v":740,"y":0.49},{"p":"7.8","v":750,"y":0.488},{"p":"7.8","v":760,"y":0.487},{"p":"7.8","v":770,"y":0.478},{"p":"7.8","v":780,"y":0.452},{"p":"7.8","v":790,"y":0.395},{"p":"7.8","v":800,"y":0.345},{"p":"7.8","v":810,"y":0.3},{"p":"7.8","v":820,"y":0.266},{"p":"7.8","v":830,"y":0.255},{"p":"7.8","v":840,"y":0.24},{"p":"7.8","v":850,"y":0.23},{"p":"7.8","v":860,"y":0.215},{"p":"7.8","v":870,"y":0.19},{"p":"7.8","v":880,"y":0.155},{"p":"7.8","v":890,"y":0.12},{"p":"7.8","v":900,"y":0.09},{"p":"7.8","v":910,"y":0.055},{"p":"7.8","v":920,"y":0.03},{"p":"7.8","v":930,"y":0.012},{"p":"7.8","v":940,"y":0.004},{"p":"7.8","v":950,"y":0}
]
},
"resolve":{"scale":{"color":"independent","fill":"independent","stroke":"independent","shape":"independent"},"legend":{"color":"independent","fill":"independent","stroke":"independent","shape":"independent"}},
"hconcat":[
{
"width":407,"height":444,
"title":"Raw Data",
"data":{"name":"raw"},
"layer":[
{"mark":{"type":"line","strokeWidth":1.5},
"encoding":{
"x":{"field":"v","type":"quantitative","scale":{"domain":[0,1100],"nice":false,"zero":false},"axis":{"values":[0,200,400,600,800,1000],"format":"d","title":"Deceleration Voltage [V]"}},
"y":{"field":"y","type":"quantitative","scale":{"domain":[0,1.5],"nice":false},"axis":{"values":[0,0.2,0.4,0.6,0.8,1.0,1.2,1.4],"format":".1f","title":"FC current [nA]"}},
"color":{"field":"p","type":"nominal","scale":{"domain":["0","2.1","3.8","6.3","7.8"],"range":["#000000","#ff0000","#0000ff","#008000","#bfbf00"]},
"legend":{"title":["Pressure","\u2009(x 10\u207b\u2074 mbar)"],"orient":"top-right","offset":6,
"encode":{"symbols":{"update":{
"shape":{"signal":"datum.value === '0' ? 'M-2,0L2,0M-0.8,-0.8L0.8,0.8M-0.8,0.8L0.8,-0.8' : datum.value === '2.1' ? 'M-2,0L2,0M1,0L0.866,0.5L0.5,0.866L0,1L-0.5,0.866L-0.866,0.5L-1,0L-0.866,-0.5L-0.5,-0.866L0,-1L0.5,-0.866L0.866,-0.5Z' : datum.value === '3.8' ? 'M-2,0L2,0M0,-1L0.951,-0.309L0.588,0.809L-0.588,0.809L-0.951,-0.309Z' : datum.value === '6.3' ? 'M-2,0L2,0M0,-1L0.866,-0.5L0.866,0.5L0,1L-0.866,0.5L-0.866,-0.5Z' : 'M-2,0L2,0M0,-1L0,1'"},
"fill":{"signal":"datum.value === '2.1' ? '#ff0000' : datum.value === '3.8' ? '#0000ff' : datum.value === '6.3' ? '#008000' : 'transparent'"},
"strokeWidth":{"value":2},
"opacity":{"value":1}
}}}}}}},
{"mark":{"type":"point","size":110,"strokeWidth":2,"opacity":1},
"encoding":{
"x":{"field":"v","type":"quantitative"},
"y":{"field":"y","type":"quantitative"},
"fill":{"field":"p","type":"nominal","scale":{"range":["transparent","#ff0000","#0000ff","#008000","transparent"]},"legend":null},
"stroke":{"field":"p","type":"nominal","scale":{"range":["#000000","#ff0000","#0000ff","#008000","#bfbf00"]},"legend":null},
"shape":{"field":"p","type":"nominal","scale":{"range":["M-1,-1L1,1M-1,1L1,-1","circle","M0,-1L0.951,-0.309L0.588,0.809L-0.588,0.809L-0.951,-0.309Z","M0,-1L0.866,-0.5L0.866,0.5L0,1L-0.866,0.5L-0.866,-0.5Z","M0,-1L0,1M-1,0L1,0"]},"legend":null}}}
]
},
{
"width":401,"height":444,
"title":{"text":"Normalized data","offset":-5},
"data":{"name":"norm"},
"layer":[
{"mark":{"type":"line","strokeWidth":1.5},
"encoding":{
"x":{"field":"v","type":"quantitative","scale":{"domain":[0,1085],"nice":false,"zero":false},"axis":{"values":[0,200,400,600,800,1000],"format":"d","title":"Deceleration Voltage [V]"}},
"y":{"field":"y","type":"quantitative","scale":{"domain":[0,1],"nice":false},"axis":{"values":[0,0.2,0.4,0.6,0.8,1.0],"format":".1f","title":"FC current [arb. units]"}},
"color":{"field":"p","type":"nominal","scale":{"domain":["0","2.1","3.8","6.3","7.8"],"range":["#000000","#ff0000","#0000ff","#008000","#bfbf00"]},"legend":null}}},
{"mark":{"type":"point","size":110,"strokeWidth":2,"opacity":1},
"encoding":{
"x":{"field":"v","type":"quantitative"},
"y":{"field":"y","type":"quantitative"},
"fill":{"field":"p","type":"nominal","scale":{"range":["transparent","#ff0000","#0000ff","#008000","transparent"]},"legend":null},
"stroke":{"field":"p","type":"nominal","scale":{"range":["#000000","#ff0000","#0000ff","#008000","#bfbf00"]},"legend":null},
"shape":{"field":"p","type":"nominal","scale":{"range":["M-1,-1L1,1M-1,1L1,-1","circle","M0,-1L0.951,-0.309L0.588,0.809L-0.588,0.809L-0.951,-0.309Z","M0,-1L0.866,-0.5L0.866,0.5L0,1L-0.866,0.5L-0.866,-0.5Z","M0,-1L0,1M-1,0L1,0"]},"legend":null}}}
]
}
]
}
